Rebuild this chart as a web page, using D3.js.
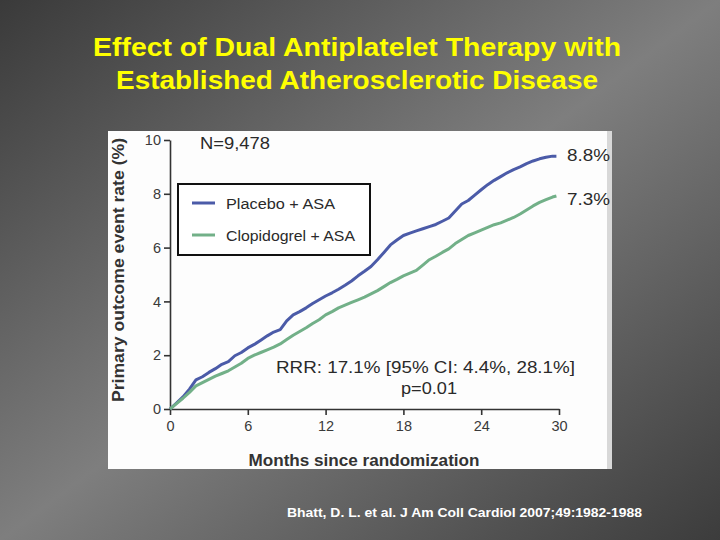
<!DOCTYPE html>
<html>
<head>
<meta charset="utf-8">
<script src="https://cdn.jsdelivr.net/npm/d3@7"></script>
<style>
  html, body { margin: 0; padding: 0; background: #555; }
  svg { display: block; }
</style>
</head>
<body>
<div id="chart"></div>
<script>
// chart data
const titleLines = ['Effect of Dual Antiplatelet Therapy  with', 'Established Atherosclerotic Disease'];
const citation = 'Bhatt, D. L. et al. J Am Coll Cardiol 2007;49:1982-1988';

const months = [0, 0.5, 1, 1.5, 2, 2.5, 3, 3.5, 4, 4.5, 5, 5.5, 6, 6.5, 7, 7.5, 8, 8.5, 9, 9.5,
  10, 10.5, 11, 11.5, 12, 12.5, 13, 13.5, 14, 14.5, 15, 15.5, 16, 16.5, 17, 17.5, 18, 18.5, 19, 19.5,
  20, 20.5, 21, 21.5, 22, 22.5, 23, 23.5, 24, 24.5, 25, 25.5, 26, 26.5, 27, 27.5, 28, 28.5, 29, 29.5, 29.8];

const placebo = [0, 0.22, 0.45, 0.74, 1.08, 1.2, 1.36, 1.5, 1.66, 1.76, 1.98, 2.1, 2.27, 2.4, 2.56, 2.72, 2.86, 2.95, 3.28, 3.5,
  3.62, 3.76, 3.92, 4.06, 4.2, 4.32, 4.45, 4.6, 4.76, 4.95, 5.12, 5.3, 5.55, 5.82, 6.1, 6.28, 6.45, 6.54, 6.62, 6.7,
  6.78, 6.86, 6.98, 7.1, 7.36, 7.62, 7.75, 7.95, 8.15, 8.34, 8.5, 8.64, 8.78, 8.9, 9.0, 9.12, 9.22, 9.3, 9.36, 9.4, 9.4];

const clopidogrel = [0, 0.2, 0.4, 0.62, 0.86, 0.98, 1.1, 1.22, 1.32, 1.42, 1.56, 1.7, 1.88, 2.0, 2.1, 2.2, 2.3, 2.42, 2.58, 2.74,
  2.88, 3.02, 3.18, 3.32, 3.5, 3.62, 3.76, 3.86, 3.96, 4.06, 4.16, 4.28, 4.4, 4.55, 4.7, 4.82, 4.95, 5.05, 5.15, 5.35,
  5.55, 5.68, 5.82, 5.95, 6.15, 6.3, 6.45, 6.55, 6.65, 6.75, 6.85, 6.92, 7.02, 7.12, 7.25, 7.4, 7.55, 7.68, 7.78, 7.88, 7.92];

const seriesNames = ['Placebo + ASA', 'Clopidogrel + ASA'];
const seriesColors = ['#4b5ba8', '#72b088'];
const endLabels = ['8.8%', '7.3%'];
const xTicks = [0, 6, 12, 18, 24, 30];
const yTicks = [0, 2, 4, 6, 8, 10];

const width = 720, height = 540;

const svg = d3.select('#chart')
  .append('svg')
  .attr('width', width)
  .attr('height', height);

// slide background: dark corners top-left / bottom-right, lighter band across
const grad = svg.append('defs').append('linearGradient')
  .attr('id', 'bg')
  .attr('x1', 0).attr('y1', 0).attr('x2', 1).attr('y2', 1);
grad.append('stop').attr('offset', '0%').attr('stop-color', '#3a3a3a');
grad.append('stop').attr('offset', '50%').attr('stop-color', '#7e7e7e');
grad.append('stop').attr('offset', '100%').attr('stop-color', '#3c3c3c');

svg.append('rect')
  .attr('width', width).attr('height', height)
  .attr('fill', 'url(#bg)');

// title
svg.selectAll('text.title')
  .data(titleLines)
  .join('text')
  .attr('class', 'title')
  .attr('x', 357)
  .attr('y', (d, i) => 56 + i * 33)
  .attr('text-anchor', 'middle')
  .attr('font-family', 'Liberation Sans, Arial, sans-serif')
  .attr('font-weight', 'bold')
  .attr('font-size', 26)
  .attr('fill', '#ffff00')
  .attr('textLength', (d, i) => i === 0 ? 528 : 482)
  .attr('lengthAdjust', 'spacingAndGlyphs')
  .text(d => d);

// white figure panel
svg.append('rect')
  .attr('x', 108).attr('y', 131)
  .attr('width', 504).attr('height', 338)
  .attr('fill', '#fdfdfd');
svg.append('rect')
  .attr('x', 607).attr('y', 131)
  .attr('width', 5).attr('height', 338)
  .attr('fill', '#d8d8d8');

const x = d3.scaleLinear().domain([0, 30]).range([170, 559]);
const y = d3.scaleLinear().domain([0, 10]).range([409, 140]);

const font = 'Liberation Sans, Arial, sans-serif';
const ink = '#2a2a2a';

// axes
const xAxis = svg.append('g')
  .attr('transform', `translate(0,${y(0)})`)
  .call(d3.axisBottom(x).tickValues(xTicks).tickSize(6).tickSizeOuter(0).tickPadding(6));
const yAxis = svg.append('g')
  .attr('transform', `translate(${x(0)},0)`)
  .call(d3.axisLeft(y).tickValues(yTicks).tickSize(6).tickSizeOuter(0).tickPadding(3));

[xAxis, yAxis].forEach(g => {
  g.select('.domain').attr('stroke', '#333').attr('stroke-width', 1.6);
  g.selectAll('.tick line').attr('stroke', '#333').attr('stroke-width', 1.6);
  g.selectAll('.tick text')
    .attr('font-family', font)
    .attr('font-size', 14.5)
    .attr('fill', '#3a3a3a');
});

// axis titles
svg.append('text')
  .attr('transform', 'translate(124,270) rotate(-90)')
  .attr('text-anchor', 'middle')
  .attr('font-family', font)
  .attr('font-size', 17)
  .attr('font-weight', 'bold')
  .attr('fill', '#333')
  .attr('textLength', 264)
  .attr('lengthAdjust', 'spacingAndGlyphs')
  .text('Primary outcome event rate (%)');

svg.append('text')
  .attr('x', 364).attr('y', 466)
  .attr('text-anchor', 'middle')
  .attr('font-family', font)
  .attr('font-size', 17)
  .attr('font-weight', 'bold')
  .attr('fill', '#333')
  .attr('textLength', 231)
  .attr('lengthAdjust', 'spacingAndGlyphs')
  .text('Months since randomization');

// curves
const series = [placebo, clopidogrel];
const line = d3.line()
  .x((d, i) => x(months[i]))
  .y(d => y(d));

svg.selectAll('path.curve')
  .data(series)
  .join('path')
  .attr('class', 'curve')
  .attr('fill', 'none')
  .attr('stroke', (d, i) => seriesColors[i])
  .attr('stroke-width', 3)
  .attr('stroke-linejoin', 'round')
  .attr('d', line);

// end labels
svg.selectAll('text.endlab')
  .data(endLabels)
  .join('text')
  .attr('class', 'endlab')
  .attr('x', 567)
  .attr('y', (d, i) => i === 0 ? 161 : 205)
  .attr('font-family', font)
  .attr('font-size', 16.5)
  .attr('fill', ink)
  .attr('textLength', 43)
  .attr('lengthAdjust', 'spacingAndGlyphs')
  .text(d => d);

svg.append('text')
  .attr('x', 200).attr('y', 149)
  .attr('font-family', font)
  .attr('font-size', 17)
  .attr('fill', ink)
  .attr('textLength', 70)
  .attr('lengthAdjust', 'spacingAndGlyphs')
  .text('N=9,478');

// legend
const legend = svg.append('g');
legend.append('rect')
  .attr('x', 178).attr('y', 184)
  .attr('width', 192).attr('height', 71)
  .attr('fill', '#fff')
  .attr('stroke', '#111')
  .attr('stroke-width', 2);
seriesNames.forEach((name, i) => {
  const ly = 203 + i * 32;
  legend.append('line')
    .attr('x1', 192).attr('x2', 215)
    .attr('y1', ly).attr('y2', ly)
    .attr('stroke', seriesColors[i])
    .attr('stroke-width', 3);
  legend.append('text')
    .attr('x', 226).attr('y', ly + 5.5)
    .attr('font-family', font)
    .attr('font-size', 15.5)
    .attr('fill', ink)
    .attr('textLength', i === 0 ? 109 : 129)
    .attr('lengthAdjust', 'spacingAndGlyphs')
    .text(name);
});

// statistics
svg.append('text')
  .attr('x', 276).attr('y', 373)
  .attr('font-family', font)
  .attr('font-size', 16.5)
  .attr('fill', ink)
  .attr('textLength', 299)
  .attr('lengthAdjust', 'spacingAndGlyphs')
  .text('RRR: 17.1% [95% CI: 4.4%, 28.1%]');
svg.append('text')
  .attr('x', 401).attr('y', 394)
  .attr('font-family', font)
  .attr('font-size', 16.5)
  .attr('fill', ink)
  .attr('textLength', 56)
  .attr('lengthAdjust', 'spacingAndGlyphs')
  .text('p=0.01');

// citation
svg.append('text')
  .attr('x', 287).attr('y', 517)
  .attr('font-family', font)
  .attr('font-weight', 'bold')
  .attr('font-size', 12.5)
  .attr('fill', '#fff')
  .attr('textLength', 355)
  .attr('lengthAdjust', 'spacingAndGlyphs')
  .text(citation);
</script>
</body>
</html>
